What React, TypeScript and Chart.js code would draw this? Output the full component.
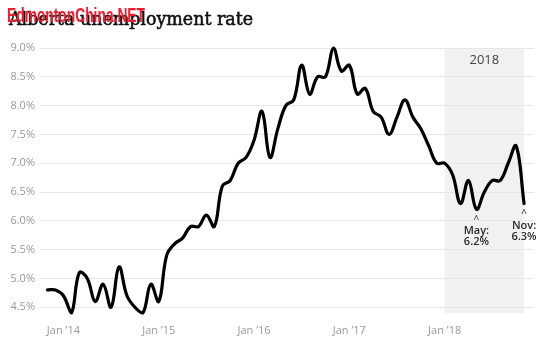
import React, { useEffect, useRef } from "react";
import { Chart, registerables } from "chart.js";

Chart.register(...registerables);

// Monthly Alberta unemployment rate, Nov 2013 (index 0) to Nov 2018 (index 60)
const firstMonth = "2013-11";
const rates = [
  4.8, 4.8, 4.7, 4.4, 5.1, 5.0, 4.6, 4.9, 4.5, 5.2, 4.7, 4.5,
  4.4, 4.9, 4.6, 5.4, 5.6, 5.7, 5.9, 5.9, 6.1, 5.9, 6.6, 6.7,
  7.0, 7.1, 7.4, 7.9, 7.1, 7.6, 8.0, 8.1, 8.7, 8.2, 8.5, 8.5,
  9.0, 8.6, 8.7, 8.2, 8.3, 7.9, 7.8, 7.5, 7.8, 8.1, 7.8, 7.6,
  7.3, 7.0, 7.0, 6.8, 6.3, 6.7, 6.2, 6.5, 6.7, 6.7, 7.0, 7.3,
  6.3,
];
const xTickPositions = [2, 14, 26, 38, 50];
const xTickLabels = ["Jan \u201914", "Jan \u201915", "Jan \u201916", "Jan \u201917", "Jan \u201918"];
const yTicks = [4.5, 5.0, 5.5, 6.0, 6.5, 7.0, 7.5, 8.0, 8.5, 9.0];
const highlightFrom = 50;
const highlightTo = 60;
const highlightLabel = "2018";
const calloutIndices = [54, 60];
const calloutLabels = ["May:", "Nov:"];
const calloutValues = ["6.2%", "6.3%"];
const titleText = "Alberta unemployment rate";
const watermarkText = "EdmontonChina.NET";

const overlayPlugin = {
  id: "overlay",
  beforeDraw(chart: any) {
    const { ctx, chartArea, scales } = chart;
    const x0 = scales.x.getPixelForValue(highlightFrom);
    const x1 = scales.x.getPixelForValue(highlightTo);
    ctx.save();
    ctx.fillStyle = "#f1f1f1";
    ctx.fillRect(x0, chartArea.top, x1 - x0, chartArea.bottom - chartArea.top);
    ctx.restore();
  },
  afterDatasetsDraw(chart: any) {
    const { ctx, chartArea, scales } = chart;
    const x0 = scales.x.getPixelForValue(highlightFrom);
    const x1 = scales.x.getPixelForValue(highlightTo);
    ctx.save();
    ctx.fillStyle = "#444";
    ctx.font = "13px 'Open Sans'";
    ctx.textAlign = "center";
    ctx.textBaseline = "middle";
    ctx.fillText(highlightLabel, (x0 + x1) / 2, chartArea.top + 12);

    ctx.fillStyle = "#2a2a2a";
    calloutIndices.forEach((idx, k) => {
      const px = scales.x.getPixelForValue(idx);
      const py = scales.y.getPixelForValue(rates[idx]);
      ctx.font = "10px 'Open Sans'";
      ctx.fillText("^", px, py + 11);
      ctx.font = "600 11px 'Open Sans'";
      ctx.fillText(calloutLabels[k], px, py + 22);
      ctx.fillText(calloutValues[k], px, py + 33);
    });
    ctx.restore();
  },
  afterDraw(chart: any) {
    const { ctx } = chart;
    ctx.save();
    // title
    ctx.fillStyle = "#111";
    ctx.strokeStyle = "#111";
    ctx.lineWidth = 0.6;
    ctx.font = "18px 'DejaVu Serif'";
    ctx.textBaseline = "alphabetic";
    ctx.textAlign = "left";
    const tw = ctx.measureText(titleText).width;
    ctx.translate(9, 25);
    ctx.scale(244 / tw, 1);
    ctx.fillText(titleText, 0, 0);
    ctx.strokeText(titleText, 0, 0);
    ctx.restore();
    // watermark
    ctx.save();
    ctx.fillStyle = "#ee1c2e";
    ctx.font = "bold 20px 'Liberation Sans Narrow', 'Liberation Sans'";
    ctx.textBaseline = "alphabetic";
    const ww = ctx.measureText(watermarkText).width;
    ctx.translate(7, 21.7);
    ctx.scale(138 / ww, 1);
    ctx.fillText(watermarkText, 0, 0);
    ctx.restore();
  },
};

export default function App() {
  const canvasRef = useRef<HTMLCanvasElement | null>(null);

  useEffect(() => {
    if (!canvasRef.current) return;
    const chart = new Chart(canvasRef.current, {
      type: "line",
      data: {
        datasets: [
          {
            label: "Unemployment rate (" + firstMonth + " on)",
            data: rates.map((v, i) => ({ x: i, y: v })),
            borderColor: "#000",
            borderWidth: 3.2,
            tension: 0.4,
            pointRadius: 0,
            fill: false,
            borderCapStyle: "round",
            borderJoinStyle: "round",
            clip: false as any,
          },
        ],
      },
      options: {
        animation: false,
        responsive: false,
        maintainAspectRatio: false,
        layout: { padding: { top: 48, right: 26, bottom: 0, left: 0 } },
        plugins: {
          legend: { display: false },
          tooltip: { enabled: false },
          title: { display: false },
        },
        scales: {
          x: {
            type: "linear",
            min: -0.95,
            max: 61.25,
            grid: { display: false },
            border: { display: false },
            afterBuildTicks(scale: any) {
              scale.ticks = xTickPositions.map((v) => ({ value: v }));
            },
            afterFit(scale: any) {
              scale.height = 30;
            },
            ticks: {
              color: "#999",
              font: { family: "'Open Sans'", size: 11 },
              padding: 3,
              maxRotation: 0,
              autoSkip: false,
              callback: (_v: any, i: number) => xTickLabels[i],
            },
          },
          y: {
            type: "linear",
            min: 4.4,
            max: 9.0,
            grid: { color: "#e6e6e6", lineWidth: 1, drawTicks: false },
            border: { display: false },
            afterBuildTicks(scale: any) {
              scale.ticks = yTicks.map((v) => ({ value: v }));
            },
            afterFit(scale: any) {
              scale.width = 40;
            },
            ticks: {
              color: "#999",
              font: { family: "'Open Sans'", size: 11 },
              padding: 5,
              callback: (v: any) => Number(v).toFixed(1) + "%",
            },
          },
        },
      },
      plugins: [overlayPlugin],
    });
    return () => chart.destroy();
  }, []);

  return (
    <div style={{ position: "fixed", left: 0, top: 0, width: 560, height: 343, background: "#fff" }}>
      <canvas ref={canvasRef} width={560} height={343} style={{ width: 560, height: 343 }} />
    </div>
  );
}
